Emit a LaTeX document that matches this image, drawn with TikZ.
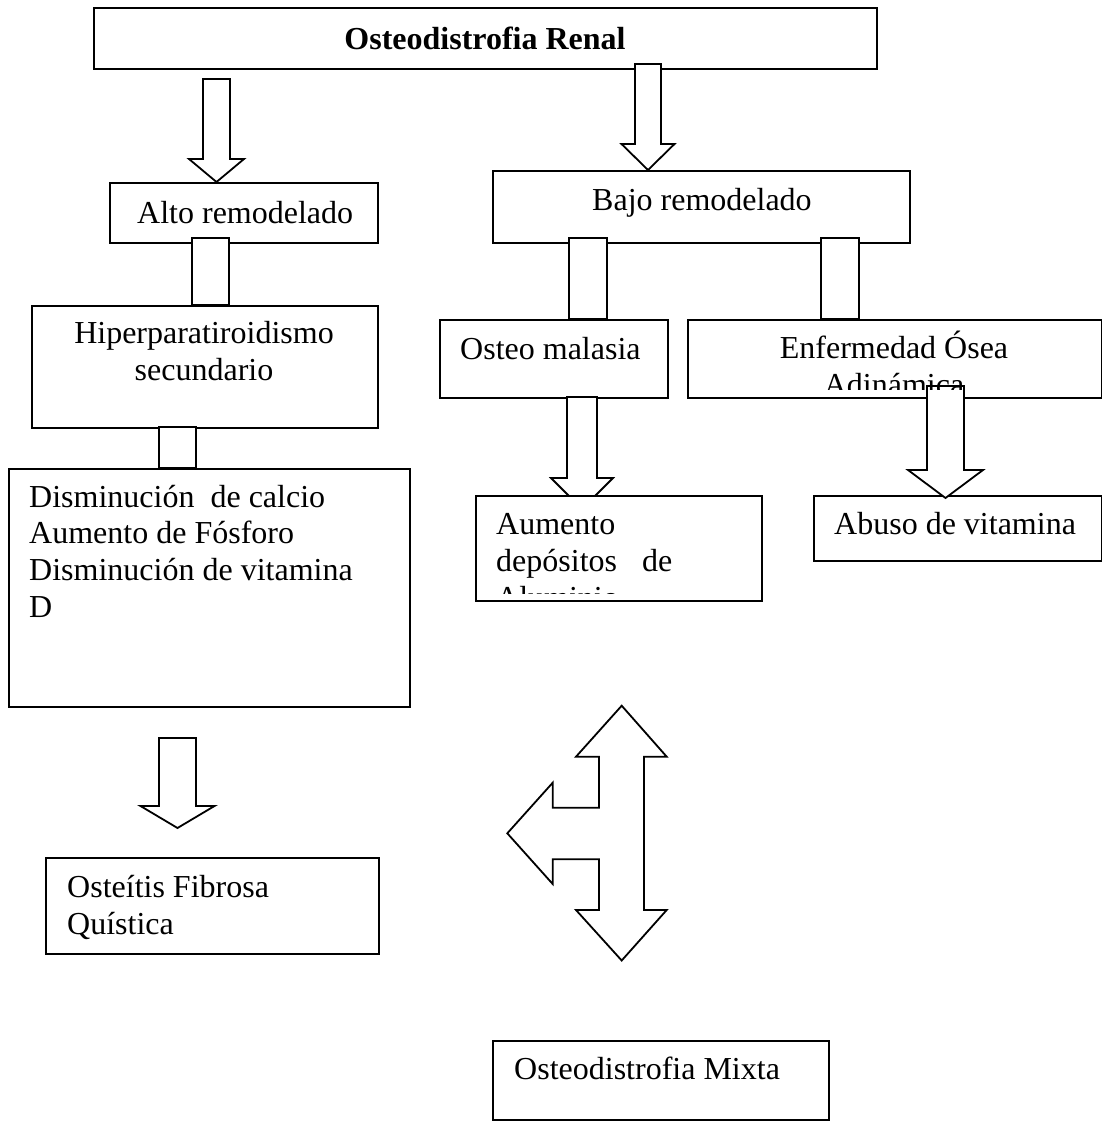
\documentclass[tikz,border=0pt]{standalone}
\usepackage{fontspec}
\setmainfont{Liberation Serif}
% hollow block arrow pointing down: centre x, top y, head y, tip y, half shaft width, half head width
\newcommand\downblock[6]{%
  \draw[blk] ({#1-#5},#2) -- ({#1+#5},#2) -- ({#1+#5},#3) -- ({#1+#6},#3)
    -- (#1,#4) -- ({#1-#6},#3) -- ({#1-#5},#3) -- cycle;}
\begin{document}
\begin{tikzpicture}[x=1pt,y=-1pt,
  box/.style={draw, line width=1.8pt, fill=white, inner sep=0pt, anchor=north west},
  txt/.style={inner sep=0pt, anchor=base west, font=\fontsize{32}{36.8}\selectfont},
  ctxt/.style={txt, anchor=base},
  blk/.style={draw, line width=1.8pt, fill=white, line join=miter},
  link/.style={draw, line width=1.8pt, fill=white},
]
\fill[white] (0,0) rectangle (1102,1130);
\useasboundingbox (0,0) rectangle (1102,1130);

% top box
\node[box, minimum width=783pt, minimum height=61pt] (title) at (93,7) {};
\node[ctxt] (title-t) at (485,49) {\textbf{Osteodistrofia Renal}};

% arrows out of the top box
\downblock{216.5}{79}{159}{182}{13.5}{27.5}
\downblock{648}{64}{144}{170}{13}{26.5}

% second level
\node[box, minimum width=268pt, minimum height=60pt] (alto) at (109,182) {};
\node[txt] (alto-t) at (137,223) {Alto remodelado};
\node[box, minimum width=417pt, minimum height=72pt] (bajo) at (492,170) {};
\node[txt] (bajo-t) at (592,210) {Bajo remodelado};

% third level
\node[box, minimum width=346pt, minimum height=122pt] (hiper) at (31,305) {};
\node[ctxt] (hiper-t1) at (204,343) {Hiperparatiroidismo};
\node[ctxt] (hiper-t2) at (204,380) {secundario};
\node[box, minimum width=228pt, minimum height=78pt] (osteo) at (439,319) {};
\node[txt] (osteo-t) at (460,359) {Osteo malasia};
\node[box, minimum width=414pt, minimum height=78pt] (enf) at (687,319) {};
\node[ctxt] (enf-t1) at (894,358) {Enfermedad Ósea};

% joints under the second level
\draw[link] (192,238) rectangle (229,305);
\draw[link] (569,238) rectangle (607,319);
\draw[link] (821,238) rectangle (859,319);

% left column: causes
\node[box, minimum width=401pt, minimum height=238pt] (dism) at (8,468) {};
\draw[link] (159,427) rectangle (196,468);
\node[txt] (dism-t1) at (29,507) {Disminución\ \ de calcio};
\node[txt] (dism-t2) at (29,543) {Aumento de Fósforo};
\node[txt] (dism-t3) at (29,580) {Disminución de vitamina};
\node[txt] (dism-t4) at (29,617) {D};

% low turnover branches
\downblock{582}{397}{478}{509}{15}{31}
\node[box, minimum width=286pt, minimum height=105pt] (aumento) at (475,495) {};
\node[txt] (aumento-t1) at (496,534) {Aumento};
\node[txt] (aumento-t2) at (496,571) {depósitos\hspace{25pt}de};
\begin{scope}
  \clip (477,497) rectangle (759,593);
  \node[txt] (aumento-t3) at (496,608) {Aluminio};
\end{scope}

\node[box, minimum width=288pt, minimum height=65pt] (abuso) at (813,495) {};
\node[txt] (abuso-t) at (834,534) {Abuso de vitamina};
\downblock{945.5}{386}{470}{498}{18.5}{37.5}
\begin{scope}
  \clip (689,321) rectangle (1100,389);
  \node[ctxt] (enf-t2) at (894,395) {Adinámica};
\end{scope}

% bottom left
\downblock{177.5}{738}{806}{828}{18.5}{37}
\node[box, minimum width=333pt, minimum height=96pt] (osteitis) at (45,857) {};
\node[txt] (osteitis-t1) at (67,897) {Osteítis Fibrosa};
\node[txt] (osteitis-t2) at (67,934) {Quística};

% three-way arrow
\draw[blk] (621.7,705.7) -- (666.7,756.7) -- (644,756.7) -- (644,910) -- (666.7,910)
  -- (621.7,960.5) -- (576,910) -- (599,910) -- (599,859.3) -- (552.7,859.3)
  -- (552.7,884) -- (507.3,833.3) -- (552.7,782.7) -- (552.7,807.7) -- (599,807.7)
  -- (599,756.7) -- (576,756.7) -- cycle;

% bottom right
\node[box, minimum width=336pt, minimum height=79pt] (mixta) at (492,1040) {};
\node[txt] (mixta-t) at (514,1079) {Osteodistrofia Mixta};
\end{tikzpicture}
\end{document}
